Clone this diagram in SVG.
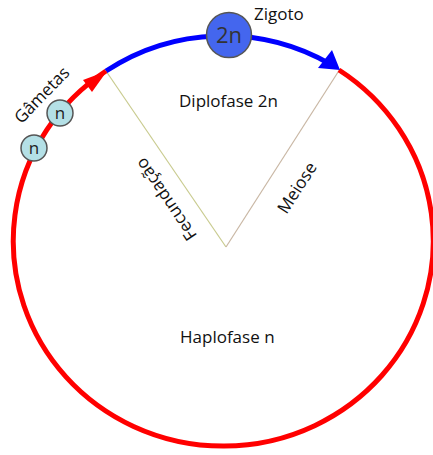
<svg xmlns="http://www.w3.org/2000/svg" width="433" height="455" viewBox="0 0 433 455">
<style>
  text { font-family: "Open Sans", "Noto Sans", "DejaVu Sans", sans-serif; fill: #111; }
  .lbl { font-size: 17px; }
  .cell { stroke: #555; stroke-width: 1.5; }
  .arc { fill: none; stroke-width: 5; }
</style>
<rect width="433" height="455" fill="#ffffff"/>
<g id="connectors">
  <line x1="106" y1="71" x2="226" y2="247" stroke="#c9cb8f" stroke-width="1.2"/>
  <line x1="340" y1="69" x2="226" y2="247" stroke="#c9b7a4" stroke-width="1.2"/>
  <path id="haplo-arc" class="arc" stroke="#ff0000" d="M339,70 A210,205 0 1,1 106,71"/>
  <path id="diplo-arc" class="arc" stroke="#0000ff" d="M106,71 A210,205 0 0,1 330,64"/>
  <polygon points="107,71 83,80 92,92" fill="#ff0000"/>
  <polygon points="340,70 318,68 332,50" fill="#0000ff"/>
</g>
<g id="zigoto">
  <circle class="cell" cx="229" cy="35" r="22.5" fill="#4466ee"/>
  <text x="229" y="43" font-size="22" text-anchor="middle" style="fill:#333">2n</text>
  <text class="lbl" x="254" y="20">Zigoto</text>
</g>
<g id="gametas">
  <circle class="cell" cx="60" cy="113" r="13" fill="#b4e0e6"/>
  <text x="60" y="119" font-size="17" text-anchor="middle" style="fill:#222">n</text>
  <circle class="cell" cx="34" cy="148" r="13" fill="#b4e0e6"/>
  <text x="34" y="154" font-size="17" text-anchor="middle" style="fill:#222">n</text>
  <text class="lbl" x="46" y="99" text-anchor="middle" transform="rotate(-46 46 99)">Gâmetas</text>
</g>
<g id="diplofase">
  <text class="lbl" x="179" y="107">Diplofase 2n</text>
</g>
<g id="haplofase">
  <text class="lbl" x="180" y="343">Haplofase n</text>
</g>
<g id="fecundacao">
  <text class="lbl" x="171" y="196" text-anchor="middle" transform="rotate(-124 171 196)">Fecundação</text>
</g>
<g id="meiose">
  <text class="lbl" x="302" y="191" text-anchor="middle" transform="rotate(-57 302 191)">Meiose</text>
</g>
</svg>
